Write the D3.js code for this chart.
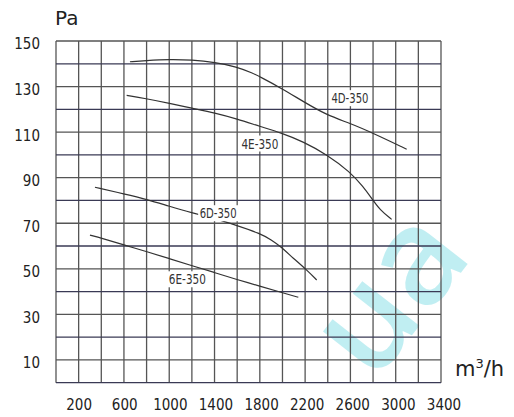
<!DOCTYPE html>
<html>
<head>
<meta charset="utf-8">
<script src="https://cdn.jsdelivr.net/npm/d3@7"></script>
<style>
  html, body { margin: 0; padding: 0; background: #fff; }
  svg { display: block; }
</style>
</head>
<body>
<svg id="chart" width="514" height="417"></svg>
<script>
// ---- data ----
const xTicks = [200, 600, 1000, 1400, 1800, 2200, 2600, 3000, 3400];
const yTicks = [150, 130, 110, 90, 70, 50, 30, 10];
const seriesNames = ["4D-350", "4E-350", "6D-350", "6E-350"];
const flow4D = [653, 786, 1007, 1198, 1404, 1596, 1740, 1801, 1993, 2184, 2390, 2596, 2802, 3097];
const pa4D   = [140.9, 141.4, 142.0, 141.7, 140.6, 138.7, 135.8, 134.3, 129.2, 123.4, 117.5, 113.9, 109.5, 102.5];
const flow4E = [624, 786, 1007, 1198, 1404, 1596, 1801, 1993, 2184, 2390, 2596, 2713, 2788, 2861, 2964];
const pa4E   = [126.1, 124.8, 122.6, 120.5, 118.4, 115.8, 112.5, 109.6, 105.8, 100.2, 92.6, 86.0, 80.9, 75.8, 71.7];
const flow6D = [344, 609, 801, 992, 1198, 1404, 1596, 1801, 1905, 1978, 2096, 2214, 2302];
const pa6D   = [85.8, 82.8, 80.5, 77.6, 74.6, 72.1, 69.0, 65.6, 62.6, 60.0, 54.6, 49.5, 45.1];
const flow6E = [300, 404, 609, 801, 1007, 1212, 1404, 1596, 1801, 1993, 2140];
const pa6E   = [64.8, 63.4, 60.4, 57.5, 54.4, 51.2, 48.3, 45.3, 42.4, 39.6, 37.5];
// label anchor points (flow, Pa) for the curve names
const labelFlow = [2596, 1801, 1432, 1160];
const labelPa   = [124.9, 105.0, 74.4, 45.4];

// ---- layout ----
const svg = d3.select("#chart");
const x = d3.scaleLinear().domain([0, 3400]).range([56, 441]);
const y = d3.scaleLinear().domain([0, 150]).range([382.7, 41]);
const xLab = d3.scaleLinear().domain([200, 3400]).range([x(200) + 0.5, x(3400) + 3]);

const g = svg.append("g");

// watermark
g.append("text")
  .attr("transform", "translate(424,320) rotate(-52)")
  .attr("text-anchor", "middle")
  .attr("font-family", "'Open Sans', Lato, 'DejaVu Sans', sans-serif")
  .attr("font-weight", 600)
  .attr("font-size", 134)
  .attr("fill", "#a6e7ed")
  .attr("opacity", 0.7)
  .text("ua");

// grid
const gridX = d3.range(0, 3401, 200);
const gridY = d3.range(0, 151, 10);
g.append("g").selectAll("line").data(gridX).join("line")
  .attr("x1", d => x(d)).attr("x2", d => x(d))
  .attr("y1", y(150)).attr("y2", y(0))
  .attr("stroke", "#555").attr("stroke-width", 1.3);
g.append("g").selectAll("line").data(gridY).join("line")
  .attr("x1", x(0)).attr("x2", x(3400))
  .attr("y1", d => y(d)).attr("y2", d => y(d))
  .attr("stroke", d => (d % 20 === 0 ? "#3a3a55" : "#555"))
  .attr("stroke-width", 1.3);

// curves
const line = d3.line().x(d => x(d[0])).y(d => y(d[1])).curve(d3.curveBasis);
const series = [
  d3.zip(flow4D, pa4D),
  d3.zip(flow4E, pa4E),
  d3.zip(flow6D, pa6D),
  d3.zip(flow6E, pa6E)
];
g.append("g").selectAll("path").data(series).join("path")
  .attr("d", line)
  .attr("fill", "none")
  .attr("stroke", "#333")
  .attr("stroke-width", 1.2);

// curve labels with white background
const lab = g.append("g").selectAll("g").data(seriesNames).join("g")
  .attr("transform", (d, i) => `translate(${x(labelFlow[i])},${y(labelPa[i])})`);
lab.append("rect")
  .attr("x", -20).attr("y", -8).attr("width", 40).attr("height", 16)
  .attr("fill", "#fff");
lab.append("text")
  .attr("text-anchor", "middle")
  .attr("dy", "0.36em")
  .attr("font-family", "'DejaVu Sans Condensed', 'DejaVu Sans', sans-serif")
  .attr("font-stretch", "condensed")
  .attr("font-size", 14)
  .attr("fill", "#333")
  .attr("textLength", 37)
  .attr("lengthAdjust", "spacingAndGlyphs")
  .text(d => d);

// y tick labels
g.append("g").selectAll("text").data(yTicks).join("text")
  .attr("x", 40)
  .attr("y", d => y(d) + 3)
  .attr("dy", "0.36em")
  .attr("text-anchor", "end")
  .attr("font-family", "'DejaVu Sans Condensed', 'DejaVu Sans', sans-serif")
  .attr("font-size", 15)
  .attr("fill", "#222")
  .text(d => d);

// x tick labels
g.append("g").selectAll("text").data(xTicks).join("text")
  .attr("x", d => xLab(d))
  .attr("y", 410)
  .attr("text-anchor", "middle")
  .attr("font-family", "'DejaVu Sans Condensed', 'DejaVu Sans', sans-serif")
  .attr("font-size", 15)
  .attr("fill", "#222")
  .text(d => d);

// axis titles
g.append("text")
  .attr("x", 55).attr("y", 25)
  .attr("font-family", "'DejaVu Sans', sans-serif")
  .attr("font-size", 20)
  .attr("fill", "#222")
  .text("Pa");
const unit = g.append("text")
  .attr("x", 455).attr("y", 376)
  .attr("font-family", "'DejaVu Sans', sans-serif")
  .attr("font-size", 21)
  .attr("fill", "#222");
unit.append("tspan").text("m");
unit.append("tspan").attr("font-size", 13).attr("dy", -8).text("3");
unit.append("tspan").attr("dy", 8).text("/h");
</script>
</body>
</html>
